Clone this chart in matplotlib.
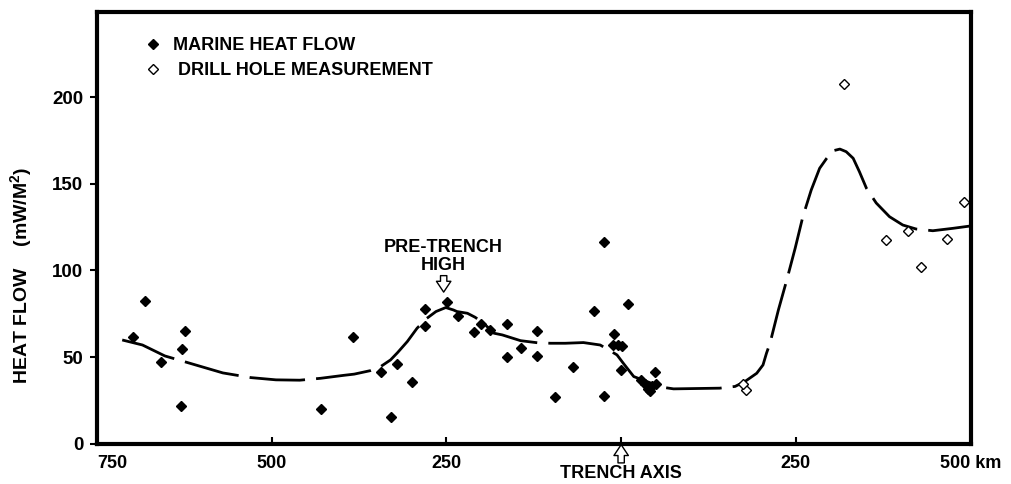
import matplotlib.pyplot as plt
import numpy as np

plt.rcParams.update({'font.family': ['Liberation Sans', 'DejaVu Sans'], 'font.weight': 'bold', 'font.size': 13,
                     'mathtext.fontset': 'custom', 'mathtext.bf': 'Liberation Sans:bold',
                     'mathtext.rm': 'Liberation Sans:bold', 'mathtext.default': 'bf'})

# distance from trench axis (km, ocean side negative) and heat flow (mW/m2)
marine_x = [-681, -698, -624, -629, -659, -630, -384, -430, -329, -344, -321, -300,
            -280, -280, -249, -234, -210, -200, -188, -163, -163, -144, -120, -120,
            -95, -69, -39, -25, -25, 10, -10, -11, -4, 1, 0, 49,
            29, 34, 39, 44, 50, 41]
marine_y = [82.4, 61.5, 65.1, 54.6, 47.3, 22.0, 61.7, 20.0, 15.6, 41.3, 46.1, 35.9,
            77.8, 68.2, 81.7, 73.9, 64.4, 69.2, 65.7, 69.3, 50.0, 55.5, 65.3, 50.7,
            27.1, 44.2, 76.5, 116.4, 27.7, 80.9, 63.2, 57.1, 57.0, 56.7, 42.7, 41.5,
            36.9, 34.6, 31.7, 33.4, 34.6, 30.5]

drill_x = [319, 491, 379, 410, 429, 466, 179, 174]
drill_y = [207.5, 139.3, 117.8, 122.9, 102.0, 118.0, 31.1, 34.6]

curve_x = [-714, -685, -653, -609, -570, -530, -494, -460, -430, -397, -382, -359,
           -344, -330, -320, -306, -292, -278, -265, -251, -240, -235, -220, -209,
           -197, -182, -170, -144, -120, -101, -80, -54, -30, -18, -6, 3, 18, 37,
           58, 75, 141, 163, 177, 194, 203, 208, 213, 225, 237, 249, 260, 272, 284,
           294, 303, 313, 322, 332, 341, 351, 365, 384, 403, 422, 446, 475, 499]
curve_y = [59.9, 57.0, 50.7, 45.5, 40.9, 38.2, 36.9, 36.7, 37.8, 39.5, 40.2, 42.2,
           44.6, 48.4, 52.6, 59.0, 66.7, 72.4, 76.3, 78.6, 77.2, 76.3, 75.3, 73.0,
           69.6, 63.8, 62.8, 59.5, 58.3, 58.0, 58.0, 58.4, 57.0, 54.2, 51.3, 46.5, 38.8, 35.9,
           32.7, 31.7, 32.1, 33.1, 35.9, 40.7, 45.5, 52.3, 58.0, 77.2, 94.5, 112.8, 131.0, 146.4, 158.9,
           164.6, 169.0, 170.0, 168.5, 164.7, 156.9, 147.4, 138.9, 131.0, 126.2, 123.9, 122.9, 124.3, 125.6]

xticks = [-750, -500, -250, 0, 250, 500]
xtick_labels = ['750', '500', '250', '', '250', '500 km']
yticks = [0, 50, 100, 150, 200]

fig = plt.figure(figsize=(10.11, 4.84), dpi=100)
ax = fig.add_axes([0.096, 0.083, 0.864, 0.892])

ax.plot(curve_x, curve_y, color='black', lw=2, dashes=(20, 4), solid_capstyle='butt',
        dash_capstyle='butt')
ax.plot(marine_x, marine_y, 'D', color='black', ms=5.5, ls='none', label='MARINE HEAT FLOW')
ax.plot(drill_x, drill_y, 'D', mfc='white', mec='black', mew=1.0, ms=5.5, ls='none',
        label=' DRILL HOLE MEASUREMENT')

ax.set_xlim(-750, 500)
ax.set_ylim(0, 249)
ax.set_xticks(xticks)
ax.set_xticklabels(xtick_labels)
ax.get_xticklabels()[0].set_ha('left')
ax.set_yticks(yticks)
ax.tick_params(axis='x', direction='in', length=5, width=1.5, pad=8, labelsize=13)
ax.tick_params(axis='y', direction='out', length=5, width=1.5, pad=5, labelsize=13.5)
for s in ax.spines.values():
    s.set_linewidth(3)

ax.set_ylabel('HEAT FLOW    (mW/M$^2$)', fontsize=14, fontweight='bold')
ax.yaxis.set_label_coords(-0.072, 0.39)

ax.legend(loc='upper left', bbox_to_anchor=(0.035, 0.98), frameon=False,
          handlelength=1.0, handletextpad=0.6, labelspacing=0.45, fontsize=13)

# annotations
arrow_style = dict(arrowstyle='simple,head_width=0.8,head_length=0.6,tail_width=0.35',
                   fc='white', ec='black', lw=1, shrinkA=0, shrinkB=0)
ax.text(-254, 98, 'PRE-TRENCH\nHIGH', ha='center', va='bottom', fontsize=13, linespacing=1.05)
ax.annotate('', xy=(-254, 87.5), xytext=(-254, 97), arrowprops=arrow_style)
ax.annotate('', xy=(0, -0.5), xytext=(0, -11), annotation_clip=False, arrowprops=arrow_style)
ax.text(0, -12, 'TRENCH AXIS', ha='center', va='top', fontsize=13, clip_on=False)

fig.savefig('out.png', dpi=100)
